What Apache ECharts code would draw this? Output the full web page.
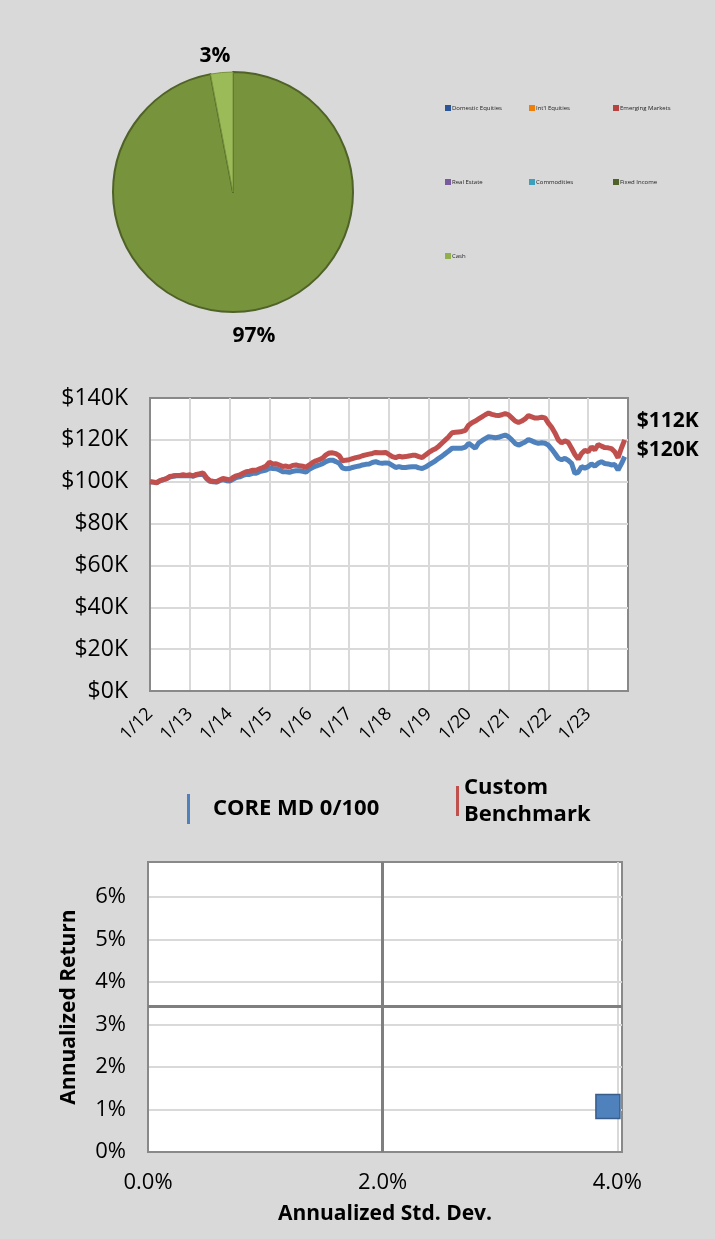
<!DOCTYPE html>
<html>
<head>
<meta charset="utf-8">
<script src="https://cdn.jsdelivr.net/npm/echarts@6/dist/echarts.min.js"></script>
<style>
  html, body { margin: 0; padding: 0; background: #d9d9d9; }
  #chart { width: 715px; height: 1239px; }
</style>
</head>
<body>
<div id="chart"></div>
<script>
// allocation pie
const assetClasses = ["Domestic Equities", "Int'l Equities", "Emerging Markets", "Real Estate", "Commodities", "Fixed Income", "Cash"];
const allocation = [0, 0, 0, 0, 0, 97, 3];
const assetColors = ["#1f4e8c", "#f68b1f", "#c0504d", "#8064a2", "#4bacc6", "#77933c", "#9bbb59"];
const legendColors = ["#2a5599", "#f07f09", "#b8423f", "#7a5a9e", "#3c9fbb", "#4f6228", "#8fb04a"];

// growth of $100K, monthly from 1/12
const yearTicks = ["1/12", "1/13", "1/14", "1/15", "1/16", "1/17", "1/18", "1/19", "1/20", "1/21", "1/22", "1/23"];
const coreValues = [
  100, 99.8, 99.6, 100.4, 101, 101.5, 102.3, 102.6, 102.8, 102.8, 103, 102.8,
  103, 102.6, 103.2, 103.4, 103.6, 101.5, 100.2, 100, 99.8, 100.5, 101, 100.5,
  100.3, 101.2, 102, 102.3, 103, 103.5, 103.5, 104, 104, 104.8, 105.2, 105.6,
  106.5, 106.3, 106.2, 105.6, 104.8, 104.8, 104.5, 105, 105.2, 105.2, 105, 104.6,
  106, 106.8, 107.5, 108, 108.6, 109.6, 110.2, 110.3, 109.6, 108.8, 106.5, 106.2,
  106.3, 106.8, 107.2, 107.5, 108, 108.3, 108.5, 109.2, 109.6, 109, 108.8, 109,
  108.8, 107.8, 106.8, 107.2, 106.8, 106.8, 107, 107.2, 107.2, 106.6, 106.3, 107,
  108, 109, 110, 111.2, 112.2, 113.5, 114.7, 116, 116, 116, 116, 116.5,
  118.3, 117.2, 116, 118.5, 119.6, 120.6, 121.5, 121.3, 121, 121.2, 121.8, 122.3,
  121.5, 120, 118.3, 117.5, 118.2, 119, 120.2, 119.5, 118.8, 118.3, 118.6, 118.4,
  117.5, 115.6, 113.5, 111.2, 110.5, 111.2, 110.2, 108.8, 104, 104.5, 107.2, 106.5,
  107.2, 108.5, 107.4, 108.8, 109.6, 108.7, 108.5, 108, 108.2, 105.6, 108.5, 112
];
const benchValues = [
  100, 99.8, 99.5, 100.5, 101, 101.5, 102.5, 102.8, 103, 103, 103.3, 103,
  103.3, 102.8, 103.5, 103.8, 104.2, 102, 100.5, 100.2, 100, 100.8, 101.6, 101.2,
  100.8, 102, 102.8, 103.2, 104, 104.8, 105, 105.5, 105.5, 106.2, 106.8, 107.5,
  109.3, 108.5, 108.6, 108, 107.3, 107.5, 107, 107.8, 108, 107.6, 107.4, 107,
  108, 109.2, 110, 110.5, 111.3, 112.8, 113.7, 113.8, 113.4, 112.5, 110, 110.3,
  110.5, 111, 111.5, 111.8, 112.4, 112.8, 113.2, 113.5, 114, 113.8, 113.8, 114,
  113, 112, 111.5, 112.2, 111.8, 112, 112.3, 112.6, 112.6, 112, 111.5, 112.8,
  114, 115, 115.8, 117, 118.5, 120, 121.5, 123.4, 123.6, 123.8, 124, 124.5,
  127, 128.2, 129, 130, 131, 132, 132.8, 132.2, 131.8, 131.6, 132, 132.6,
  132, 130.5, 129, 128.3, 129, 130, 131.6, 131, 130.4, 130.5, 130.8, 130.5,
  128, 126, 123.3, 120, 118.5, 119.5, 118.8, 116, 113, 110.8, 113.5, 115,
  114.3, 116.7, 115.2, 117.8, 117, 116.3, 116.2, 115.8, 114.3, 111.5, 116, 120
];

// risk / return
const riskPoint = [3.92, 1.07];
const dividerX = 2.0;
const dividerY = 3.42;

const chart = echarts.init(document.getElementById("chart"));

const pieData = assetClasses.map((name, i) => ({
  name: name,
  value: allocation[i],
  itemStyle: {
    color: assetColors[i],
    borderColor: name === "Fixed Income" ? "#4f6228" : "#77933c",
    borderWidth: name === "Fixed Income" ? 2 : 1
  }
}));

const pieLabelPos = { 5: [254, 336], 6: [215, 56] };

const pieLegend = (names, left) => ({
  data: names.map(n => ({
    name: n,
    itemStyle: { color: legendColors[assetClasses.indexOf(n)], borderWidth: 0 }
  })),
  orient: "vertical",
  left: left,
  top: 99,
  icon: "rect",
  itemWidth: 6,
  itemHeight: 6,
  itemGap: 66,
  selectedMode: false,
  textStyle: { fontSize: 6, lineHeight: 8, color: "#222", padding: [0, 0, 0, -4] }
});

const option = {
  backgroundColor: "#d9d9d9",
  animation: false,
  textStyle: { fontFamily: "Open Sans" },
  legend: [
    pieLegend(["Domestic Equities", "Real Estate", "Cash"], 440),
    pieLegend(["Int'l Equities", "Commodities"], 524),
    pieLegend(["Emerging Markets", "Fixed Income"], 608),
    {
      data: ["CORE MD 0/100"],
      left: 182,
      top: 789,
      icon: "rect",
      itemWidth: 3,
      itemHeight: 30,
      selectedMode: false,
      textStyle: { fontSize: 22, fontWeight: "bold", color: "#000", padding: [0, 0, 0, 18] }
    },
    {
      data: ["Custom Benchmark"],
      left: 451,
      top: 769,
      icon: "rect",
      itemWidth: 3,
      itemHeight: 30,
      selectedMode: false,
      formatter: n => n.replace(" ", "\n"),
      textStyle: { fontSize: 22, fontWeight: "bold", color: "#000", lineHeight: 27, padding: [0, 0, 0, 0] }
    }
  ],
  grid: [
    { left: 150, right: 87, top: 398, bottom: 548, show: true, backgroundColor: "#fff", borderColor: "#898989", borderWidth: 2 },
    { left: 148, right: 93, top: 862, bottom: 87, show: true, backgroundColor: "#fff", borderColor: "#898989", borderWidth: 2 }
  ],
  xAxis: [
    {
      gridIndex: 0,
      type: "value",
      min: 0,
      max: 144,
      interval: 12,
      axisLine: { show: true, lineStyle: { color: "#898989", width: 2 } },
      axisTick: { show: false },
      splitLine: { showMinLine: false, showMaxLine: false, lineStyle: { color: "#d9d9d9", width: 2 } },
      axisLabel: {
        rotate: 45,
        margin: 20,
        fontSize: 18,
        color: "#000",
        formatter: v => yearTicks[v / 12] || ""
      }
    },
    {
      gridIndex: 1,
      type: "value",
      min: 0,
      max: 4.04,
      interval: 2,
      axisLine: { show: true, lineStyle: { color: "#898989", width: 2 } },
      axisTick: { show: false },
      splitLine: { showMinLine: false, showMaxLine: false, lineStyle: { color: "#d9d9d9", width: 2 } },
      axisLabel: { margin: 20, fontSize: 22, color: "#000", showMaxLabel: false, formatter: v => v.toFixed(1) + "%" },
      name: "Annualized Std. Dev.",
      nameLocation: "middle",
      nameGap: 52,
      nameTextStyle: { fontSize: 21, fontWeight: "bold", color: "#000" }
    }
  ],
  yAxis: [
    {
      gridIndex: 0,
      type: "value",
      min: 0,
      max: 140,
      interval: 20,
      axisLine: { show: true, lineStyle: { color: "#898989", width: 2 } },
      axisTick: { show: false },
      splitLine: { showMinLine: false, showMaxLine: false, lineStyle: { color: "#d9d9d9", width: 2 } },
      axisLabel: { margin: 22, fontSize: 23, color: "#000", formatter: v => "$" + v + "K" }
    },
    {
      gridIndex: 1,
      type: "value",
      min: 0,
      max: 6.82,
      interval: 1,
      axisLine: { show: true, lineStyle: { color: "#898989", width: 2 } },
      axisTick: { show: false },
      splitLine: { showMinLine: false, showMaxLine: false, lineStyle: { color: "#d9d9d9", width: 2 } },
      axisLabel: { margin: 22, fontSize: 22, color: "#000", showMaxLabel: false, formatter: v => v + "%" },
      name: "Annualized Return",
      nameLocation: "middle",
      nameGap: 68,
      nameTextStyle: { fontSize: 21, fontWeight: "bold", color: "#000" }
    }
  ],
  series: [
    {
      type: "pie",
      center: [233, 192],
      radius: 120,
      startAngle: 90,
      clockwise: true,
      silent: true,
      data: pieData,
      label: {
        show: true,
        fontSize: 21,
        fontWeight: "bold",
        color: "#000",
        formatter: p => p.value ? Math.round(p.percent) + "%" : ""
      },
      labelLine: { show: false },
      labelLayout: p => {
        const pos = pieLabelPos[p.dataIndex];
        return pos ? { x: pos[0], y: pos[1], align: "center", verticalAlign: "middle" } : {};
      }
    },
    {
      name: "CORE MD 0/100",
      type: "line",
      xAxisIndex: 0,
      yAxisIndex: 0,
      showSymbol: false,
      color: "#4f81bd",
      lineStyle: { width: 5, color: "#4f81bd" },
      data: coreValues.map((v, i) => [i, v]),
      endLabel: {
        show: true,
        distance: 12,
        offset: [0, -36],
        fontSize: 21,
        fontWeight: "bold",
        color: "#000",
        formatter: p => "$" + Math.round(p.value[1]) + "K"
      }
    },
    {
      name: "Custom Benchmark",
      type: "line",
      xAxisIndex: 0,
      yAxisIndex: 0,
      showSymbol: false,
      color: "#c0504d",
      lineStyle: { width: 5, color: "#c0504d" },
      data: benchValues.map((v, i) => [i, v]),
      endLabel: {
        show: true,
        distance: 12,
        offset: [0, 10],
        fontSize: 21,
        fontWeight: "bold",
        color: "#000",
        formatter: p => "$" + Math.round(p.value[1]) + "K"
      }
    },
    {
      type: "scatter",
      xAxisIndex: 1,
      yAxisIndex: 1,
      symbol: "rect",
      symbolSize: 24,
      z: 5,
      itemStyle: { color: "#4f81bd", borderColor: "#385d8a", borderWidth: 1.5, opacity: 1 },
      data: [riskPoint],
      markLine: {
        silent: true,
        symbol: "none",
        label: { show: false },
        lineStyle: { color: "#7f7f7f", width: 3, type: "solid" },
        data: [{ xAxis: dividerX }, { yAxis: dividerY }]
      }
    }
  ]
};

chart.setOption(option);
</script>
</body>
</html>
